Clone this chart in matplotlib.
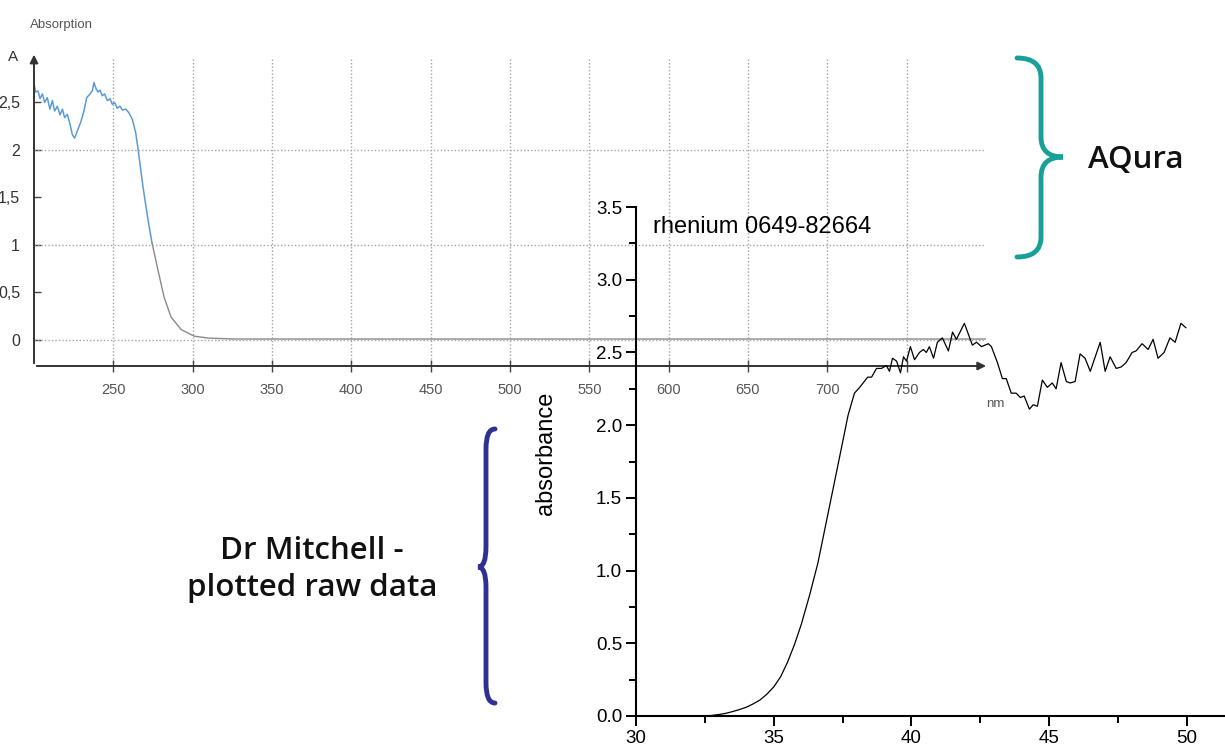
import matplotlib
matplotlib.use("Agg")
import matplotlib.pyplot as plt
from matplotlib.path import Path
from matplotlib.patches import PathPatch
from matplotlib.ticker import MultipleLocator, FormatStrFormatter

plt.rcParams['font.family'] = ['Liberation Sans', 'DejaVu Sans']

# scanned AQura spectrum (wavelength nm, absorbance)
scan_nm = [200, 201, 202.5, 203.8, 205.3, 206.7, 208.4, 210, 211.6, 213, 214.7, 216.4,
           217.9, 219.3, 221, 222.7, 224.2, 225.6, 227.3, 229.4, 231.5, 233.2, 235.3,
           236.8, 237.8, 239, 240.3, 241.6, 243, 244.5, 246.2, 247.9, 249.4, 250.8,
           252.5, 254.2, 255.7, 257.8, 259.9, 262, 264.1, 265.5, 268.7, 271.9, 274.4,
           278.2, 282, 286.4, 292.7, 301, 309.7, 326, 400, 500, 600, 700, 800]
scan_abs = [2.70, 2.61, 2.62, 2.54, 2.59, 2.50, 2.55, 2.43, 2.52, 2.41, 2.46, 2.37,
            2.43, 2.34, 2.375, 2.27, 2.16, 2.125, 2.20, 2.29, 2.41, 2.55, 2.59,
            2.625, 2.71, 2.65, 2.61, 2.63, 2.57, 2.59, 2.52, 2.54, 2.48, 2.50,
            2.44, 2.46, 2.42, 2.43, 2.39, 2.32, 2.18, 2.02, 1.61, 1.26, 1.02,
            0.73, 0.45, 0.24, 0.11, 0.04, 0.02, 0.01, 0.01, 0.01, 0.01, 0.01, 0.01]
scan_xticks = [250, 300, 350, 400, 450, 500, 550, 600, 650, 700, 750]
scan_yticks = [0, 0.5, 1, 1.5, 2, 2.5]
scan_ylabels = ['0', '0,5', '1', '1,5', '2', '2,5']
scan_grid_y = [0, 1, 2]

# Dr Mitchell raw data
raw_x = [30.0, 32.0, 32.5, 32.75, 33.0, 33.25, 33.5, 33.75, 34.0, 34.25, 34.5, 34.75,
         35.0, 35.25, 35.5, 35.75, 36.0, 36.3, 36.6, 37.0, 37.4, 37.7, 37.93, 38.12,
         38.41, 38.55, 38.73,
         38.91, 39.09, 39.20, 39.31, 39.46, 39.60, 39.71, 39.82, 39.96, 40.11,
         40.29, 40.43, 40.54, 40.65, 40.80, 40.94, 41.12, 41.34, 41.49, 41.63,
         41.92, 42.21, 42.36, 42.54, 42.79, 42.90, 43.12, 43.30, 43.44, 43.62,
         43.80, 43.95, 44.09, 44.28, 44.42, 44.57, 44.75, 44.93, 45.11, 45.25,
         45.43, 45.62, 45.76, 45.94, 46.12, 46.30, 46.49, 46.85, 47.03, 47.21,
         47.43, 47.61, 47.79, 48.01, 48.15, 48.37, 48.59, 48.77, 48.95, 49.17,
         49.38, 49.57, 49.78, 49.96]
raw_abs = [0.0, 0.0, 0.0, 0.004, 0.01, 0.018, 0.03, 0.044, 0.06, 0.083, 0.11, 0.15,
           0.20, 0.27, 0.37, 0.49, 0.63, 0.83, 1.05, 1.42, 1.79, 2.07, 2.22, 2.26,
           2.33, 2.33, 2.39,
           2.39, 2.41, 2.37, 2.46, 2.44, 2.36, 2.47, 2.44, 2.54, 2.45,
           2.50, 2.52, 2.50, 2.54, 2.46, 2.57, 2.60, 2.51, 2.64, 2.59,
           2.70, 2.55, 2.57, 2.54, 2.56, 2.54, 2.43, 2.32, 2.32, 2.22,
           2.22, 2.19, 2.20, 2.11, 2.14, 2.13, 2.31, 2.26, 2.29, 2.25,
           2.43, 2.30, 2.29, 2.30, 2.49, 2.46, 2.37, 2.57, 2.37, 2.47,
           2.39, 2.40, 2.43, 2.50, 2.51, 2.56, 2.52, 2.59, 2.46, 2.50,
           2.60, 2.57, 2.70, 2.67]

W, H = 1225, 749


def box(l, t, r, b):
    # pixel box (top-left origin) -> figure fraction rect
    return [l / W, 1 - b / H, (r - l) / W, (b - t) / H]


fig = plt.figure(figsize=(W / 100, H / 100), dpi=100)

# --- scanned chart ---
gray = '#555555'
ax1 = fig.add_axes(box(34, 58, 986, 366))
ax1.set_xlim(200, 800)
ax1.set_ylim(-0.274, 2.968)
blue_end = 45
ax1.plot(scan_nm[:blue_end], scan_abs[:blue_end], color='#5b9bd5', lw=1.1)
ax1.plot(scan_nm[blue_end - 1:], scan_abs[blue_end - 1:], color='#8a8a8a', lw=1.0)
for s in ['top', 'right', 'left', 'bottom']:
    ax1.spines[s].set_visible(False)
ax1.set_xticks(scan_xticks)
ax1.set_yticks(scan_yticks)
ax1.set_yticklabels(scan_ylabels)
ax1.tick_params(axis='x', direction='inout', length=8, width=1, color='#444444',
                labelsize=10.5, labelcolor=gray, pad=8)
ax1.tick_params(axis='y', direction='in', length=5, width=1, color='#444444',
                labelsize=11.5, labelcolor='#333333', pad=10)
ax1.xaxis.grid(True, color='#a5a5a5', ls=(0, (1, 1.5)), lw=1)
for gy in scan_grid_y:
    ax1.axhline(gy, color='#a5a5a5', ls=(0, (1, 1.5)), lw=1)
ax1.annotate('', xy=(1.003, 0), xytext=(0, 0), xycoords='axes fraction',
             arrowprops=dict(arrowstyle='-|>', color='#333333', lw=1.4, mutation_scale=12),
             annotation_clip=False)
ax1.annotate('', xy=(0, 1.02), xytext=(0, 0), xycoords='axes fraction',
             arrowprops=dict(arrowstyle='-|>', color='#333333', lw=1.4, mutation_scale=12),
             annotation_clip=False)
fig.text(30 / W, 1 - 25 / H, 'Absorption', fontsize=9.5, color=gray, va='center')
fig.text(13 / W, 1 - 57 / H, 'A', fontsize=11, color='#333333', va='center', ha='center')
fig.text(995 / W, 1 - 404 / H, 'nm', fontsize=9.5, color=gray, va='center', ha='center')

# --- Dr Mitchell overlay ---
ax2 = fig.add_axes(box(636, 207, 1225, 716))
ax2.set_facecolor('none')
ax2.plot(raw_x, raw_abs, color='black', lw=0.9)
ax2.set_xlim(30, 51.38)
ax2.set_ylim(0, 3.5)
ax2.spines['top'].set_visible(False)
ax2.spines['right'].set_visible(False)
for s in ['left', 'bottom']:
    ax2.spines[s].set_linewidth(1.5)
ax2.xaxis.set_major_locator(MultipleLocator(5))
ax2.xaxis.set_minor_locator(MultipleLocator(2.5))
ax2.yaxis.set_major_locator(MultipleLocator(0.5))
ax2.yaxis.set_minor_locator(MultipleLocator(0.25))
ax2.yaxis.set_major_formatter(FormatStrFormatter('%.1f'))
ax2.tick_params(which='major', direction='out', length=7, width=1.4, labelsize=13.5, pad=3)
ax2.tick_params(which='minor', direction='out', length=5, width=1.4)
ax2.text(30.6, 3.36, 'rhenium 0649-82664', fontsize=17, va='center')
fig.text(546 / W, 1 - 453 / H, 'absorbance', fontsize=17, rotation=90,
         ha='center', va='center')

# --- braces and notes ---
ann = fig.add_axes([0, 0, 1, 1])
ann.set_xlim(0, W)
ann.set_ylim(H, 0)
ann.axis('off')


def brace(x_end, x_mid, x_tip, y_top, y_tip, y_bot, color):
    r = 20
    verts = [(x_end, y_top), (x_mid, y_top), (x_mid, y_top + r),
             (x_mid, y_tip - r), (x_mid, y_tip), (x_tip, y_tip),
             (x_mid, y_tip), (x_mid, y_tip + r),
             (x_mid, y_bot - r), (x_mid, y_bot), (x_end, y_bot)]
    codes = [Path.MOVETO, Path.CURVE3, Path.CURVE3,
             Path.LINETO, Path.CURVE3, Path.CURVE3,
             Path.CURVE3, Path.CURVE3,
             Path.LINETO, Path.CURVE3, Path.CURVE3]
    ann.add_patch(PathPatch(Path(verts, codes), fill=False, edgecolor=color,
                            lw=3.5, capstyle='round', joinstyle='miter'))


brace(1017, 1041, 1063, 58, 157, 257, '#16a097')
brace(495, 486, 478, 429, 567, 703, '#2e3192')

note_font = dict(family=['Open Sans', 'DejaVu Sans'], fontweight='semibold',
                 fontsize=22.5, color='#111111')
fig.text(1088 / W, 1 - 168 / H, 'AQura', ha='left', va='baseline', **note_font)
fig.text(312 / W, 1 - 559 / H, 'Dr Mitchell -', ha='center', va='baseline', **note_font)
fig.text(312 / W, 1 - 596 / H, 'plotted raw data', ha='center', va='baseline', **note_font)

fig.savefig('out.png', dpi=100)
